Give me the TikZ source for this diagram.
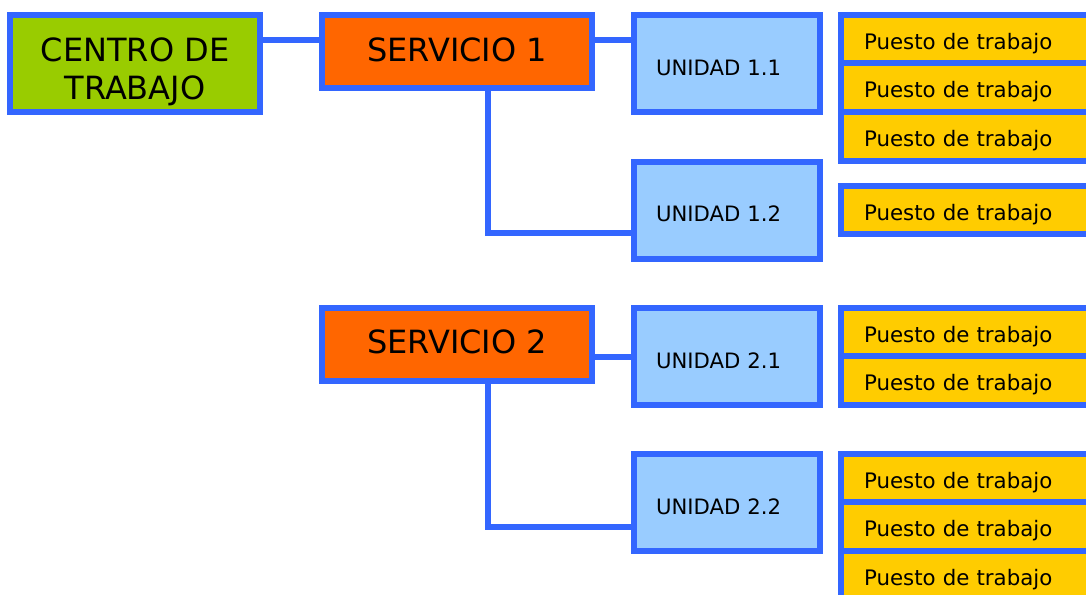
\documentclass[tikz,border=0pt]{standalone}
\usepackage{fontspec}
\setmainfont{DejaVu Sans}
\definecolor{borde}{HTML}{3366FF}
\definecolor{verde}{HTML}{99CC00}
\definecolor{naranja}{HTML}{FF6600}
\definecolor{celeste}{HTML}{99CCFF}
\definecolor{amarillo}{HTML}{FFCC00}
\begin{document}
\begin{tikzpicture}[x=0.75pt,y=-0.75pt,
    caja/.style={rectangle,draw=borde,line width=4.5pt,inner sep=0pt,outer sep=0pt},
    centro/.style={caja,fill=verde,minimum width=187.5pt,minimum height=72.75pt,
        align=center,text height=53.25pt,text depth=0pt,
        font=\fontsize{24}{28.5}\selectfont},
    servicio/.style={caja,fill=naranja,minimum width=202.5pt,minimum height=54.75pt,
        text height=14.25pt,text depth=0pt,font=\fontsize{24}{28.5}\selectfont},
    unidad/.style={caja,fill=celeste,minimum height=72.75pt,inner xsep=16.5pt,
        text width=106.5pt,align=left,text height=17.7pt,text depth=0pt,
        font=\fontsize{15.9}{18}\selectfont},
    puesto/.style={caja,fill=amarillo,minimum height=36.5pt,inner xsep=17.25pt,
        text width=156pt,align=left,text height=15pt,text depth=0pt,
        font=\fontsize{16}{19}\selectfont},
    linea/.style={draw=borde,line width=4.5pt}]
        \path[use as bounding box] (0,0) rectangle (1086,594);
        \clip (0,0) rectangle (1086,594);
        \node[centro] (centro) at (135,63.5) {CENTRO DE\\TRABAJO};
        \node[servicio] (serv1) at (457,51.5) {SERVICIO 1};
        \node[servicio] (serv2) at (457,344) {SERVICIO 2};
        \node[unidad] (u11) at (727,63.5) {UNIDAD 1.1};
        \node[unidad] (u12) at (727,210) {UNIDAD 1.2};
        \node[unidad] (u21) at (727,356.5) {UNIDAD 2.1};
        \node[unidad] (u22) at (727,502.5) {UNIDAD 2.2};
        \foreach \y [count=\i] in {39.25,87.75,136.5,210,332,380.5,478,526.5,575.5}
            \node[puesto] (p\i) at (968,\y) {Puesto de trabajo};
        \draw[linea] ([yshift=18pt]centro.east) -- ([yshift=18pt]centro.east -| serv1.west);
        \draw[linea] ([yshift=18pt]u11.west -| serv1.east) -- ([yshift=18pt]u11.west);
        \draw[linea] ([xshift=23.25pt]serv1.south) |- ([yshift=-17.6pt]u12.west);
        \draw[linea] (u21.west -| serv2.east) -- (u21.west);
        \draw[linea] ([xshift=23.25pt]serv2.south) |- ([yshift=-18pt]u22.west);
\end{tikzpicture}
\end{document}
